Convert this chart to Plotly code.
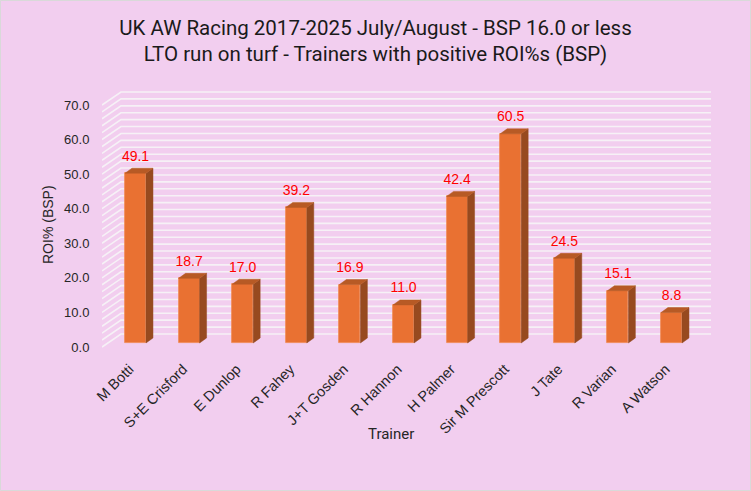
import plotly.graph_objects as go

# ---------------- data ----------------
trainers = ["M Botti", "S+E Crisford", "E Dunlop", "R Fahey", "J+T Gosden",
            "R Hannon", "H Palmer", "Sir M Prescott", "J Tate", "R Varian", "A Watson"]
roi = [49.1, 18.7, 17.0, 39.2, 16.9, 11.0, 42.4, 60.5, 24.5, 15.1, 8.8]
y_ticks = [0, 10, 20, 30, 40, 50, 60, 70]
grid_step = 2
title_lines = ["UK AW Racing 2017-2025 July/August - BSP 16.0 or less",
               "LTO run on turf - Trainers with positive ROI%s (BSP)"]

# ---------------- style / geometry ----------------
BG = "#F2CEEF"
FRONT = "#E97132"
SIDE = "#974A1F"
TOP = "#B75A25"
GRID = "#F6F1F6"
TITLE_FONT = "Roboto, sans-serif"

W, H = 751, 491
ML, MR, MT, MB = 102, 40, 91, 142
X_RANGE = [-0.625, 10.737]
Y_RANGE = [-0.58, 74.05]
BASE = 1.16            # bars sit slightly behind the front plane
Y2_RANGE = [Y_RANGE[0] - BASE, Y_RANGE[1] - BASE]
WALL_DX, WALL_DY = 0.354, 3.76   # depth of the 3D box (data units)
BAR_W = 0.392
BAR_DX, BAR_DY = 0.13, 1.45      # depth of each bar
LABEL_GAP = 3.2

xs = list(range(len(trainers)))

fig = go.Figure()

# ---- 3D wall gridlines (side wall diagonals + back wall horizontals)
gx, gy = [], []
x_left = X_RANGE[0]
for v in range(0, y_ticks[-1] + 1, grid_step):
    gx += [x_left, x_left + WALL_DX, X_RANGE[1], None]
    gy += [v, v + WALL_DY, v + WALL_DY, None]
fig.add_trace(go.Scatter(x=gx, y=gy, mode="lines",
                         line=dict(color=GRID, width=1.6),
                         hoverinfo="skip", showlegend=False))

# ---- bar side faces and top faces (computed from the values)
sx, sy, tx, ty = [], [], [], []
for x, v in zip(xs, roi):
    xl, xr = x - BAR_W / 2, x + BAR_W / 2
    sx += [xr, xr + BAR_DX, xr + BAR_DX, xr, xr, None]
    sy += [0, BAR_DY, v + BAR_DY, v, 0, None]
    tx += [xl, xl + BAR_DX, xr + BAR_DX, xr, xl, None]
    ty += [v, v + BAR_DY, v + BAR_DY, v, v, None]
fig.add_trace(go.Scatter(x=sx, y=sy, mode="lines", fill="toself", fillcolor=SIDE,
                         line=dict(color=SIDE, width=0.5), yaxis="y2",
                         hoverinfo="skip", showlegend=False))
fig.add_trace(go.Scatter(x=tx, y=ty, mode="lines", fill="toself", fillcolor=TOP,
                         line=dict(color=TOP, width=0.5), yaxis="y2",
                         hoverinfo="skip", showlegend=False))

# ---- bar front faces
fig.add_trace(go.Bar(x=xs, y=roi, width=BAR_W, yaxis="y2",
                     marker=dict(color=FRONT, line=dict(color="#F08A52", width=0.8)),
                     showlegend=False, hovertemplate="%{customdata}: %{y:.1f}<extra></extra>",
                     customdata=trainers))

# ---- data labels
fig.add_trace(go.Scatter(x=xs, y=[v + BAR_DY + LABEL_GAP for v in roi], yaxis="y2",
                         mode="text", text=[f"{v:.1f}" for v in roi],
                         textposition="middle center",
                         textfont=dict(color="#FF0000", size=14,
                                       family="Liberation Sans, Arial, sans-serif"),
                         hoverinfo="skip", showlegend=False, cliponaxis=False))

fig.update_layout(
    width=W, height=H,
    margin=dict(l=ML, r=MR, t=MT, b=MB),
    paper_bgcolor=BG, plot_bgcolor=BG,
    bargap=0,
    font=dict(family="Liberation Sans, Arial, sans-serif", color="#404040", size=13),
    title=dict(text="<br>".join(title_lines), x=0.5, xref="container", xanchor="center",
               y=1 - 34.5 / H, yanchor="middle",
               font=dict(family=TITLE_FONT, size=20.5, color="#1A1A1A")),
    xaxis=dict(range=X_RANGE, tickvals=xs, ticktext=trainers, tickangle=-45,
               showgrid=False, zeroline=False, showline=False,
               ticks="outside", ticklen=5, tickcolor="rgba(0,0,0,0)",
               ticklabelshift=-6,
               tickfont=dict(size=14.5, color="#262626")),
    yaxis=dict(range=Y_RANGE, tickvals=y_ticks, tickformat=".1f",
               showgrid=False, zeroline=False, showline=False,
               ticks="outside", ticklen=9, tickcolor="rgba(0,0,0,0)",
               tickfont=dict(size=13, color="#262626")),
    yaxis2=dict(range=Y2_RANGE, overlaying="y", visible=False),
    annotations=[
        dict(text="ROI% (BSP)", xref="paper", yref="paper",
             x=(48 - ML) / (W - ML - MR), y=(H - MB - 225) / (H - MT - MB),
             showarrow=False, textangle=-90, xanchor="center", yanchor="middle",
             font=dict(size=14, color="#262626")),
        dict(text="Trainer", xref="paper", yref="paper",
             x=(391 - ML) / (W - ML - MR), y=-(434 - (H - MB)) / (H - MT - MB),
             showarrow=False, xanchor="center", yanchor="middle",
             font=dict(size=15, color="#262626", family=TITLE_FONT)),
    ],
    shapes=[dict(type="rect", xref="paper", yref="paper", layer="above",
                 x0=(0.5 - ML) / (W - ML - MR), x1=(W - 0.5 - ML) / (W - ML - MR),
                 y0=-(MB - 0.5) / (H - MT - MB), y1=1 + (MT - 0.5) / (H - MT - MB),
                 line=dict(color="#D9D9D9", width=1))],
)

fig.write_html("out.html")
